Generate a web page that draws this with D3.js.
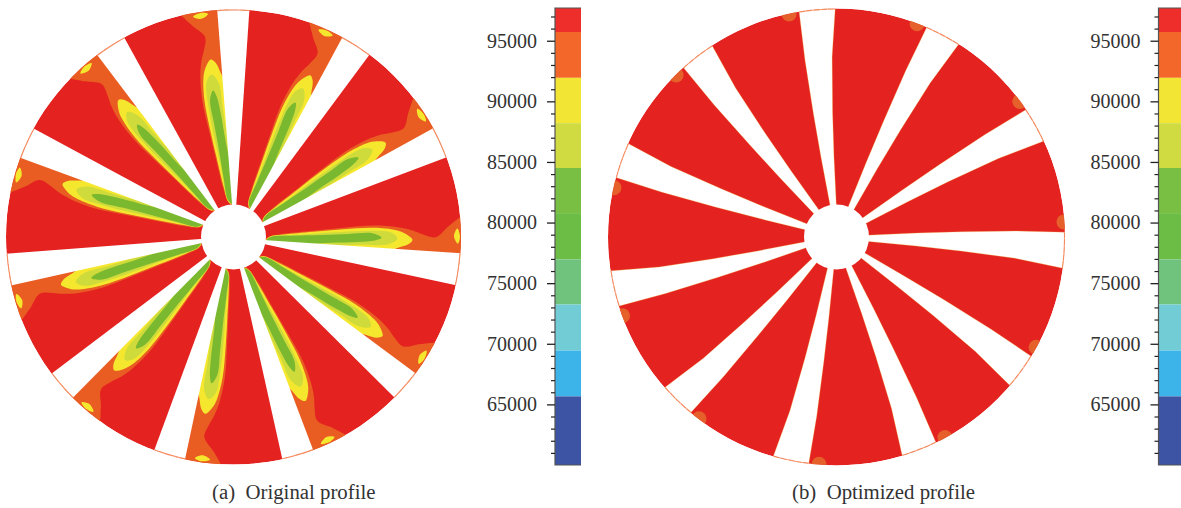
<!DOCTYPE html>
<html>
<head>
<meta charset="utf-8">
<script src="https://cdn.jsdelivr.net/npm/d3@7"></script>
<style>
body { margin: 0; background: #fff; }
text { font-family: "Liberation Serif", serif; fill: #333; }
</style>
</head>
<body>
<div id="plot"></div>
<script>
// colour bar
var bandEdges = [97700, 95720, 91940, 88200, 84500, 80780, 76960, 73240, 69440, 65660, 60000];
var bandColors = ["#ee2e2b", "#f4672a", "#f3e534", "#cfdb40", "#78bf44", "#6cbd45", "#6fc37c", "#71ccd6", "#3cb4e9", "#3d53a4"];
var majorTicks = [95000, 90000, 85000, 80000, 75000, 70000, 65000];
var minorTicks = [97000, 96000, 94000, 93000, 92000, 91000, 89000, 88000, 87000, 86000, 84000, 83000, 82000, 81000, 79000, 78000, 77000, 76000, 74000, 73000, 72000, 71000, 69000, 68000, 67000, 66000, 64000, 63000, 62000, 61000];

// slot centre angles, degrees clockwise from top
var slotsOriginal = [0, 32.7, 65.5, 98.2, 130.9, 163.6, 196.4, 229.1, 261.8, 294.5, 327.3];
var slotsOptimized = [-4.8, 27.9, 60.7, 93.4, 126.1, 158.8, 191.6, 224.3, 257, 289.7, 322.5];

// slot outlines as [degrees from slot centre, radius]
var slotOriginal = [[-2.3, 30], [-4.1, 229], [4, 229], [5, 30]];
var slotOptimized = [[-6.7, 30], [-6.2, 80], [-5.8, 125], [-5.3, 180], [-4.6, 230], [4.5, 230], [3.4, 180], [3, 125], [3, 80], [4.6, 30]];

// stress contours of one blade of the original profile, [degrees from slot centre, radius]
var orangeBand = [[-1, 30], [-9, 36], [-12, 50], [-12.7, 80], [-13, 110], [-12.9, 140], [-11.6, 165], [-10.2, 180], [-9, 189], [-8.1, 202], [-11.2, 216], [-13.3, 232], [-2, 232]];
var yellowBand = [[-1, 33], [-8.5, 36], [-11, 50], [-12, 80], [-12.3, 110], [-12, 140], [-10.6, 163], [-9.3, 172], [-7.3, 179], [-5.8, 175], [-4.5, 165], [-2.5, 150]];
var lightBand = [[-1, 33], [-8.6, 38], [-10.2, 70], [-10.9, 100], [-10.9, 130], [-9.9, 157], [-7.7, 164], [-5.5, 155], [-4.8, 130], [-3.6, 100], [-1, 60]];
var greenBand = [[-1, 33], [-8.5, 37.4], [-9.5, 58], [-9.5, 88], [-9.7, 115], [-9.7, 139], [-7.9, 148], [-6.8, 141.3], [-5.9, 124.4], [-4.8, 97.5], [-2.5, 70.5], [-1.5, 44]];
var rimSpot = [[-10.4, 224], [-8.4, 226.5], [-6.5, 224.5], [-8.4, 220.5]];

// blob on the rim of the optimized profile
var optimizedSpot = [-7.2, 228];

var discR = 229, hubR = 32.5;

var svg = d3.select("#plot").append("svg").attr("width", 1181).attr("height", 508).style("display", "block");

var angle = d3.scaleLinear().domain([0, 360]).range([0, 2 * Math.PI]);
var radius = d3.scaleLinear().domain([0, discR]).range([0, discR]);

function blob(d, turn) {
  return d3.lineRadial().curve(d3.curveCatmullRomClosed.alpha(0.5))
    .angle(function(p) { return angle(p[0] + turn); })
    .radius(function(p) { return radius(p[1]); })(d);
}
function poly(d, turn) {
  return d3.lineRadial()
    .angle(function(p) { return angle(p[0] + turn); })
    .radius(function(p) { return radius(p[1]); })(d) + "Z";
}

function drawDisc(id, cx, cy, R, slots, slotShape, fringe, drawHot) {
  svg.append("clipPath").attr("id", id).append("circle").attr("r", R);
  var g = svg.append("g").attr("transform", "translate(" + cx + "," + cy + ")");
  var inner = g.append("g").attr("clip-path", "url(#" + id + ")");

  inner.append("circle").attr("r", R).attr("fill", "#e42320");
  drawHot(inner, slots);

  inner.selectAll(".slot").data(slots).enter().append("path").attr("class", "slot")
    .attr("d", function(d) { return poly(slotShape, d); })
    .attr("fill", "#fff")
    .attr("stroke", fringe).attr("stroke-width", 0.6).attr("stroke-opacity", 0.45);

  g.append("circle").attr("r", hubR).attr("fill", "#fff");

  // thin orange rim left across each slot
  var rim = d3.arc().innerRadius(R - 0.5).outerRadius(R - 0.5);
  var last = slotShape.length / 2;
  g.selectAll(".rim").data(slots).enter().append("path").attr("class", "rim")
    .attr("d", function(d) {
      return rim({ startAngle: angle(d + slotShape[last - 1][0]), endAngle: angle(d + slotShape[last][0]) });
    })
    .attr("fill", "none").attr("stroke", "#f48a5c").attr("stroke-width", 1.1).attr("stroke-dasharray", "6 1.5");
  return g;
}

drawDisc("discA", 233.5, 237, 227.5, slotsOriginal, slotOriginal, "none", function(g, slots) {
  [[orangeBand, "#e95d23"], [yellowBand, "#f5e72e"], [lightBand, "#cfdb3a"], [greenBand, "#7ab82f"], [rimSpot, "#f5e72e"]].forEach(function(b, i) {
    g.selectAll(".band" + i).data(slots).enter().append("path").attr("class", "band" + i)
      .attr("d", function(d) { return blob(b[0], d); })
      .attr("fill", b[1]);
  });
});

drawDisc("discB", 836.5, 237, 228.5, slotsOptimized, slotOptimized, "#f2b53a", function(g, slots) {
  g.selectAll(".spot").data(slots).enter().append("circle").attr("class", "spot")
    .attr("cx", function(d) { return radius(optimizedSpot[1]) * Math.sin(angle(d + optimizedSpot[0])); })
    .attr("cy", function(d) { return -radius(optimizedSpot[1]) * Math.cos(angle(d + optimizedSpot[0])); })
    .attr("r", 7.5).attr("fill", "#e5602a");
});

// colour bars
var y = d3.scaleLinear().domain([60000, 97700]).range([465, 8]);

function drawBar(x0, w) {
  var g = svg.append("g").attr("transform", "translate(" + x0 + ",0)");
  g.selectAll("rect").data(bandColors).enter().append("rect")
    .attr("x", 0).attr("width", w)
    .attr("y", function(d, i) { return y(bandEdges[i]); })
    .attr("height", function(d, i) { return y(bandEdges[i + 1]) - y(bandEdges[i]); })
    .attr("fill", function(d) { return d; });

  g.append("path").attr("d", d3.line()([[w, y(97700)], [0, y(97700)], [0, y(60000)], [w, y(60000)]]))
    .attr("fill", "none").attr("stroke", "#555").attr("stroke-width", 1.2);

  var major = g.append("g").call(d3.axisLeft(y).tickValues(majorTicks).tickSize(8).tickPadding(10).tickFormat(d3.format("d")));
  major.select(".domain").remove();
  major.selectAll("line").attr("stroke", "#222").attr("stroke-width", 1.3);
  major.selectAll("text").style("font-size", "20px").style("font-family", "Liberation Serif").attr("fill", "#333");

  var minor = g.append("g").call(d3.axisLeft(y).tickValues(minorTicks).tickSize(4).tickFormat(""));
  minor.select(".domain").remove();
  minor.selectAll("line").attr("stroke", "#222").attr("stroke-width", 1.2);
}
drawBar(555, 26);
drawBar(1158.5, 23);

svg.append("text").attr("x", 212).attr("y", 499).style("font-size", "20.8px").style("white-space", "pre").text("(a)  Original profile");
svg.append("text").attr("x", 792).attr("y", 499).style("font-size", "20.8px").style("white-space", "pre").text("(b)  Optimized profile");
</script>
</body>
</html>
